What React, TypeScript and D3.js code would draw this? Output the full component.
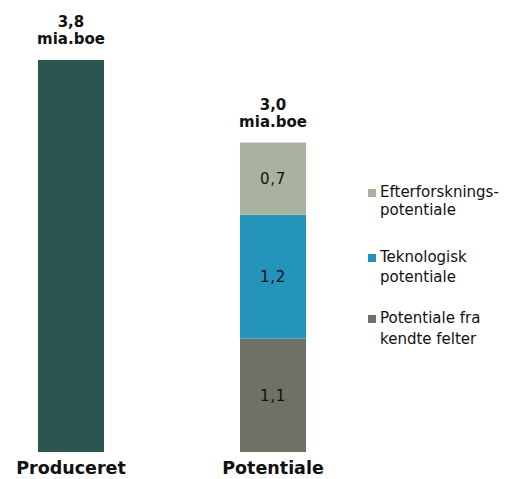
import * as d3 from "d3"

const W = 513
const H = 479
const FONT = "DejaVu Sans, Verdana, sans-serif"

const categories = ["Produceret", "Potentiale"]
const producedValue = [3.8]
const seriesNames = ["Potentiale fra kendte felter", "Teknologisk potentiale", "Efterforskningspotentiale"]
const potentialValues = [1.1, 1.2, 0.7]
const seriesColors = ["#6f7066", "#2594bb", "#a9b2a0"]
const totalLabels = ["3,8", "3,0"]
const unitLabel = "mia.boe"
const legendLines = [
  ["Efterforsknings-", "potentiale"],
  ["Teknologisk", "potentiale"],
  ["Potentiale fra", "kendte felter"],
]
const legendColors = ["#a9b2a0", "#2594bb", "#6f7066"]
const PRODUCED_COLOR = "#2b5650"

const fmt = (v: number) => v.toFixed(1).replace(".", ",")

export default function App() {
  const x = d3.scaleBand().domain(categories).range([4, 340]).paddingInner(0.673).paddingOuter(0.168)
  const y = d3.scaleLinear().domain([0, 3.8]).range([452, 60])

  const stack = d3.stack<number[]>().keys(["0", "1", "2"]).value((d, k) => d[+k])
  const stacked = stack([potentialValues])

  const bw = x.bandwidth()
  const totals = [producedValue[0], d3.sum(potentialValues)]

  // legend layout
  const legendX = 368
  const legendBase = [197, 262, 323]
  const legendGap = [17.5, 20, 21]

  return (
    <svg width={W} height={H} style={{ position: "absolute", left: 0, top: 0 }} fontFamily={FONT}>
      <rect x={x(categories[0])} y={y(producedValue[0])} width={bw} height={y(0) - y(producedValue[0])} fill={PRODUCED_COLOR} />

      {stacked.map((s, i) => {
        const d = s[0]
        const y0 = y(d[0])
        const y1 = y(d[1])
        return (
          <g key={seriesNames[i]}>
            <rect x={x(categories[1])} y={y1} width={bw} height={y0 - y1} fill={seriesColors[i]} />
            <text x={x(categories[1])! + bw / 2} y={(y0 + y1) / 2 + 5.5} textAnchor="middle" fontSize={15} letterSpacing={0.8} fill="#111">
              {fmt(potentialValues[i])}
            </text>
          </g>
        )
      })}

      {categories.map((c, i) => (
        <g key={c}>
          <text x={x(c)! + bw / 2} y={y(totals[i]) - 33} textAnchor="middle" fontSize={15} fontWeight="bold" fill="#111">
            {totalLabels[i]}
          </text>
          <text x={x(c)! + bw / 2} y={y(totals[i]) - 16} textAnchor="middle" fontSize={15} fontWeight="bold" fill="#111">
            {unitLabel}
          </text>
          <text x={x(c)! + bw / 2} y={474} textAnchor="middle" fontSize={17.5} fontWeight="bold" fill="#111">
            {c}
          </text>
        </g>
      ))}

      {legendLines.map((lines, i) => (
        <g key={i}>
          <rect x={legendX} y={legendBase[i] - 8} width={8} height={8} fill={legendColors[i]} />
          {lines.map((l, j) => (
            <text key={j} x={legendX + 12} y={legendBase[i] + j * legendGap[i]} fontSize={15} fill="#111">
              {l}
            </text>
          ))}
        </g>
      ))}
    </svg>
  )
}
